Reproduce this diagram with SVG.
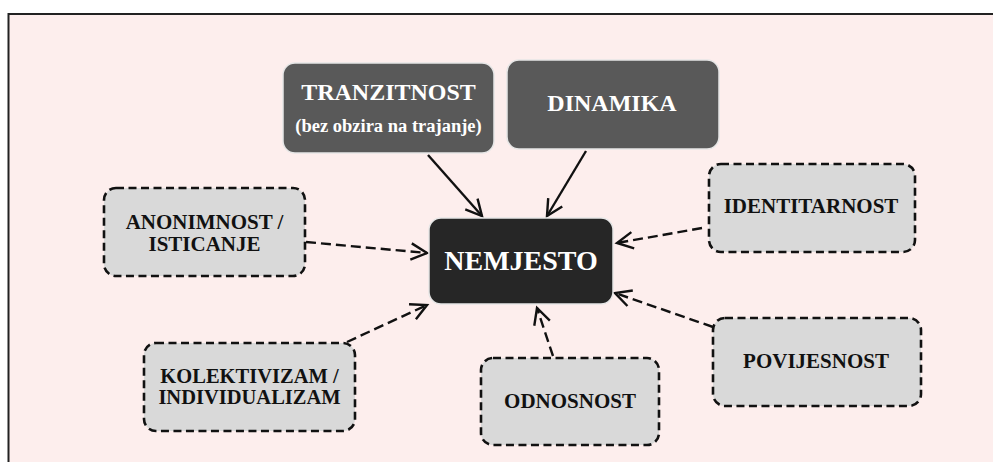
<svg xmlns="http://www.w3.org/2000/svg" width="993" height="462" viewBox="0 0 993 462">
<defs>
<style>
.frame{fill:#fdeeed;stroke:#222;stroke-width:2}
.dark{fill:#595959;stroke:#e6e6e6;stroke-width:1.5}
.darkest{fill:#262626;stroke:#e6e6e6;stroke-width:1.5}
.dash{fill:#d9d9d9;stroke:#111;stroke-width:2.6;stroke-dasharray:8 4.5}
.t{font-family:"Liberation Serif","Times New Roman",serif;font-weight:bold;text-anchor:middle}
.w{fill:#ffffff}
.b{fill:#111111}
.c{fill:none;stroke:#111;stroke-width:2.4}
.cd{stroke-dasharray:10 5}
</style>
<marker id="arr" markerUnits="userSpaceOnUse" markerWidth="40" markerHeight="40" viewBox="-20 -20 40 40" refX="0" refY="0" orient="auto">
<path d="M-16,-8.2 L0,0 L-16,8.2" fill="none" stroke="#111" stroke-width="2.4" stroke-dasharray="none"/>
</marker>
</defs>
<rect class="frame" x="8.5" y="14" width="1000" height="500"/>
<g id="connectors">
<path class="c" d="M428,155 L482,216" marker-end="url(#arr)"/>
<path class="c" d="M586,151 L547,216" marker-end="url(#arr)"/>
<path class="c cd" d="M306,242 L427,253" marker-end="url(#arr)"/>
<path class="c cd" d="M347,342 L427,305" marker-end="url(#arr)"/>
<path class="c cd" d="M553,356 L537,308" marker-end="url(#arr)"/>
<path class="c cd" d="M713,327 L615,293" marker-end="url(#arr)"/>
<path class="c cd" d="M702,228 L617,243" marker-end="url(#arr)"/>
</g>
<g id="tranzitnost">
<rect class="dark" x="283" y="63" width="211" height="90" rx="12"/>
<text class="t w" x="388.5" y="100" font-size="24">TRANZITNOST</text>
<text class="t w" x="388.5" y="132" font-size="18.5">(bez obzira na trajanje)</text>
</g>
<g id="dinamika">
<rect class="dark" x="507" y="60" width="212" height="89" rx="12"/>
<text class="t w" x="612" y="111" font-size="24">DINAMIKA</text>
</g>
<g id="nemjesto">
<rect class="darkest" x="429" y="218" width="184" height="86" rx="12"/>
<text class="t w" x="521" y="270" font-size="28">NEMJESTO</text>
</g>
<g id="anonimnost">
<rect class="dash" x="104" y="188" width="201" height="88" rx="12"/>
<text class="t b" x="204.5" y="229" font-size="21">ANONIMNOST /</text>
<text class="t b" x="204.5" y="251" font-size="21">ISTICANJE</text>
</g>
<g id="kolektivizam">
<rect class="dash" x="144" y="343" width="211" height="88" rx="12"/>
<text class="t b" x="249.5" y="383" font-size="20.5">KOLEKTIVIZAM /</text>
<text class="t b" x="249.5" y="404" font-size="20.5">INDIVIDUALIZAM</text>
</g>
<g id="odnosnost">
<rect class="dash" x="481" y="358" width="178" height="87" rx="12"/>
<text class="t b" x="570" y="408" font-size="21">ODNOSNOST</text>
</g>
<g id="povijesnost">
<rect class="dash" x="713" y="318" width="208" height="88" rx="12"/>
<text class="t b" x="816" y="368" font-size="21">POVIJESNOST</text>
</g>
<g id="identitarnost">
<rect class="dash" x="709" y="164" width="206" height="88" rx="12"/>
<text class="t b" x="811" y="213" font-size="21">IDENTITARNOST</text>
</g>
</svg>
